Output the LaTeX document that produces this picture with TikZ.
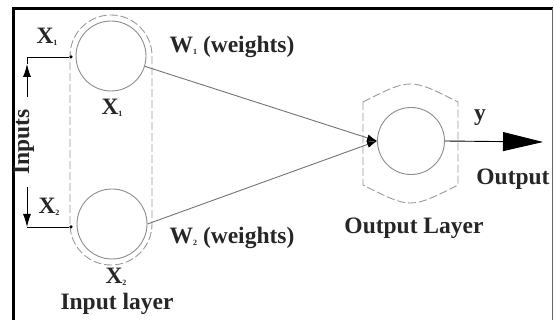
\documentclass[tikz,border=0pt]{standalone}
\usepackage{fontspec}
\setmainfont{Liberation Serif}
\usetikzlibrary{arrows.meta}
% small index after a bold label letter
\newcommand\lowidx[1]{\raisebox{-2pt}{\fontsize{8}{8}\selectfont #1}}
\begin{document}
\begin{tikzpicture}[x=1pt,y=-1pt,
  neuron/.style={circle,draw=black!45,line width=0.9pt,minimum size=70pt,inner sep=0pt},
  lbl/.style={font=\fontsize{23.5}{23.5}\selectfont\bfseries,text=black!85,inner sep=0pt},
  layer/.style={draw=black!40,dash pattern=on 8pt off 3pt,line width=0.9pt},
  wire/.style={draw=black!55,line width=0.9pt},
  feed/.style={draw=black,line width=0.9pt},
  joint/.style={circle,fill=black,inner sep=0pt,minimum size=3.5pt},
]
\useasboundingbox (0,0) rectangle (554,320);

% frame
\draw[line width=2.8pt] (13.5,320) -- (13.5,8.5) -- (553,8.5);
\draw[black!60,line width=1pt] (552.5,8.5) -- (552.5,320);

% neurons
\node[neuron] (in1) at (111,56) {};
\node[neuron] (in2) at (112,224) {};
\node[neuron,minimum size=67pt] (out) at (411,141) {};

% input layer outline
\draw[layer] (70,224) -- (70,56) arc[start angle=180,end angle=360,radius=41]
  -- (152,224) arc[start angle=0,end angle=180,radius=41];

% output layer outline
\draw[layer] (363,102) .. controls (410.5,78) .. (458,102) -- (458,185)
  .. controls (410.5,209) .. (363,185) -- cycle;

% input feeds
\node[joint] (p1) at (71,57) {};
\node[joint] (p2) at (71,227) {};
\coordinate (s1) at (27,97);
\coordinate (a1) at (27,64);
\coordinate (c1) at (27,57);
\coordinate (s2) at (27,187);
\coordinate (c2) at (27,227);
\draw[feed,-{Latex[length=13pt,width=8pt]}] (s1) -- (a1);
\draw[feed] (a1) -- (c1) -- (p1);
\draw[feed,-{Latex[length=13pt,width=8pt]}] (s2) -- (c2);
\draw[feed] (c2) -- (p2);

% weighted connections
\draw[wire,-{Latex[length=10pt,width=7pt,color=black]}] (in1.-17) -- (out.west);
\draw[wire,-{Latex[length=10pt,width=7pt,color=black]}] (in2.east) -- (out.west);

% output
\coordinate (tip) at (543,142);
\draw[feed,-{Triangle[length=40pt,width=19pt]}] (out.east) -- (tip);

% labels
\node[lbl] (lx1) at (47,37) {X\lowidx{1}};
\node[lbl] (lx2) at (49,207) {X\lowidx{2}};
\node[lbl] (ux1) at (112,108) {X\lowidx{1}};
\node[lbl] (ux2) at (116,277) {X\lowidx{2}};
\node[lbl,rotate=90] (inp) at (24,142) {Inputs};
\node[lbl] (il) at (117,304) {Input layer};
\node[lbl] (w1) at (232,47) {W\lowidx{1} (weights)};
\node[lbl] (w2) at (232,238) {W\lowidx{2} (weights)};
\node[lbl] (ly) at (480,118) {y};
\node[lbl] (lo) at (513,179) {Output};
\node[lbl] (ol) at (414,228) {Output Layer};
\end{tikzpicture}
\end{document}
